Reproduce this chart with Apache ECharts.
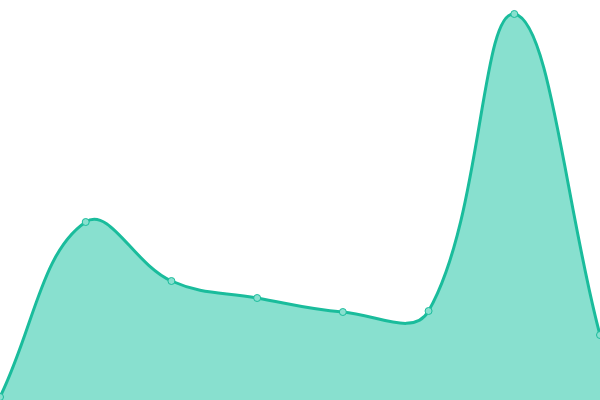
<!DOCTYPE html>
<html lang="en">
<head>
    <meta charset="UTF-8">
    <title>area</title>
    <script src="https://cdn.jsdelivr.net/npm/echarts@6/dist/echarts.min.js"></script>
    <style>html,body{margin:0;padding:0;background:#fff}</style>
</head>
<body>
<div id="main" style="width: 600px;height:400px;"></div>
<script type="text/javascript">
    // 数据
    var categories = ['1', '2', '3', '4', '5', '6', '7', '8'];
    var values = [3, 178, 119, 102, 88, 89, 386, 65];

    var lineColor = '#1abc9c';
    var fillColor = '#88e0cf';
    var tension = 0.4;

    // 曲线: 按点距离分配控制点 (不做单调约束, 允许过冲)
    function buildPaths(api) {
        var pts = values.map(function (v, i) {
            return api.coord([i, v]);
        });
        var cps = pts.map(function (p, i) {
            var prev = pts[i - 1] || p, next = pts[i + 1] || p;
            var d01 = Math.hypot(p[0] - prev[0], p[1] - prev[1]);
            var d12 = Math.hypot(next[0] - p[0], next[1] - p[1]);
            var s01 = d01 / (d01 + d12) || 0, s12 = d12 / (d01 + d12) || 0;
            var fa = tension * s01, fb = tension * s12;
            return {
                before: [p[0] - fa * (next[0] - prev[0]), p[1] - fa * (next[1] - prev[1])],
                after: [p[0] + fb * (next[0] - prev[0]), p[1] + fb * (next[1] - prev[1])]
            };
        });
        var d = 'M' + pts[0][0] + ' ' + pts[0][1];
        for (var i = 0; i < pts.length - 1; i++) {
            var a = cps[i].after, b = cps[i + 1].before, c = pts[i + 1];
            d += ' C' + a[0] + ' ' + a[1] + ' ' + b[0] + ' ' + b[1] + ' ' + c[0] + ' ' + c[1];
        }
        var bottom = api.coord([0, 0])[1];
        var area = d + ' L' + pts[pts.length - 1][0] + ' ' + bottom + ' L' + pts[0][0] + ' ' + bottom + ' Z';
        return {line: d, area: area};
    }

    var myChart = echarts.init(document.getElementById('main'));
    myChart.setOption({
        animation: false,
        grid: {left: 0, right: 0, top: 0, bottom: 0},
        xAxis: {
            type: 'category',
            data: categories,
            boundaryGap: false,
            show: false
        },
        yAxis: {
            type: 'value',
            min: 0,
            max: 400,
            show: false
        },
        series: [{
            type: 'custom',
            data: values,
            z: 2,
            renderItem: function (params, api) {
                if (params.dataIndex !== 0) return;
                var p = buildPaths(api);
                return {
                    type: 'group',
                    children: [{
                        type: 'path',
                        shape: {pathData: p.area},
                        style: {fill: fillColor}
                    }, {
                        type: 'path',
                        shape: {pathData: p.line},
                        style: {fill: null, stroke: lineColor, lineWidth: 3}
                    }]
                };
            }
        }, {
            type: 'scatter',
            data: values,
            z: 3,
            symbol: 'circle',
            symbolSize: 7,
            itemStyle: {color: fillColor, borderColor: lineColor, borderWidth: 1, opacity: 1}
        }]
    });
</script>
</body>
</html>
